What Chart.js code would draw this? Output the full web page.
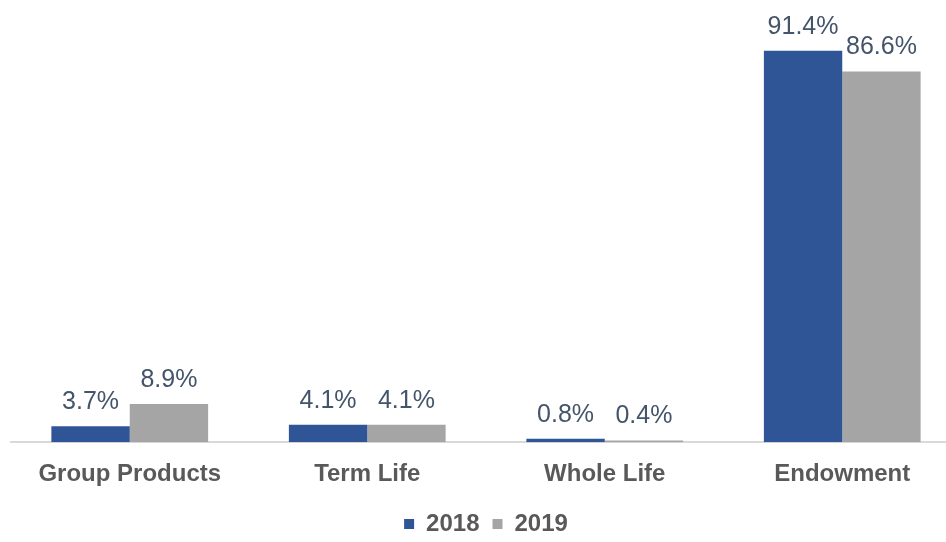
<!DOCTYPE html>
<html>
<head>
<meta charset="utf-8">
<script src="https://cdn.jsdelivr.net/npm/chart.js@4"></script>
<style>
  html, body { margin: 0; padding: 0; background: #fff; overflow: hidden; }
  #wrap { width: 972px; height: 546px; position: relative; }
</style>
</head>
<body>
<div id="wrap"><canvas id="chart"></canvas></div>
<script>
const categorias = ["Group Products", "Term Life", "Whole Life", "Endowment"];
const serie2018 = [3.7, 4.1, 0.8, 91.4];
const serie2019 = [8.9, 4.1, 0.4, 86.6];
const legendas = ["2018", "2019"];

const AZUL = "#2f5597";
const CINZA = "#a5a5a5";

// rotulos de valor acima das barras
const rotulosPlugin = {
    id: "rotulos",
    afterDatasetsDraw(chart) {
        const ctx = chart.ctx;
        ctx.save();
        ctx.font = "25px 'Liberation Sans', Arial, sans-serif";
        ctx.fillStyle = "#44546a";
        ctx.textAlign = "center";
        ctx.textBaseline = "alphabetic";
        chart.data.datasets.forEach((ds, i) => {
            const meta = chart.getDatasetMeta(i);
            meta.data.forEach((bar, j) => {
                const v = ds.data[j];
                ctx.fillText(v.toFixed(1) + "%", bar.x, bar.y - 17);
            });
        });
        ctx.restore();
    }
};

new Chart(document.getElementById("chart"), {
    type: "bar",
    data: {
        labels: categorias,
        datasets: [
            { label: legendas[0], data: serie2018, backgroundColor: AZUL },
            { label: legendas[1], data: serie2019, backgroundColor: CINZA }
        ]
    },
    options: {
        responsive: true,
        maintainAspectRatio: false,
        animation: false,
        datasets: {
            bar: { categoryPercentage: 0.66, barPercentage: 1.0 }
        },
        layout: {
            padding: { top: 14, left: 11, right: 11, bottom: 0 }
        },
        scales: {
            x: {
                grid: { display: false },
                border: { display: true, color: "#d9d9d9", width: 2 },
                ticks: {
                    padding: 10,
                    color: "#595959",
                    font: { family: "'Liberation Sans', Arial, sans-serif", size: 24, weight: "bold" }
                }
            },
            y: {
                display: false,
                min: 0,
                max: 100
            }
        },
        plugins: {
            legend: {
                position: "bottom",
                labels: {
                    boxWidth: 10,
                    boxHeight: 10,
                    padding: 13,
                    color: "#595959",
                    font: { family: "'Liberation Sans', Arial, sans-serif", size: 24, weight: "bold" }
                }
            },
            tooltip: { enabled: false }
        }
    },
    plugins: [rotulosPlugin]
});
</script>
</body>
</html>
